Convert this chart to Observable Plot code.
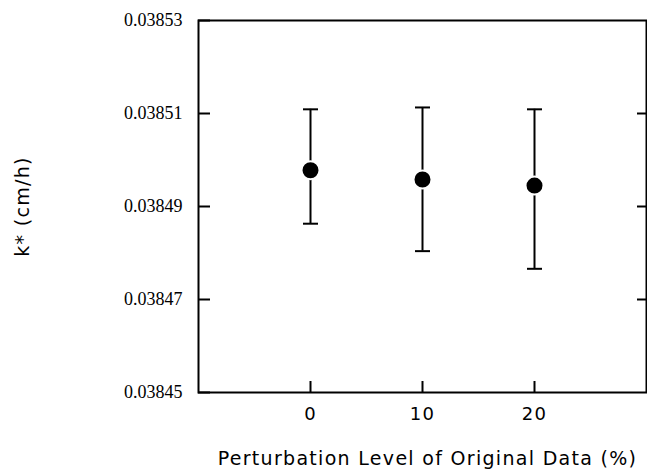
<!DOCTYPE html>
<html>
<head>
<meta charset="utf-8">
<script src="https://cdn.jsdelivr.net/npm/d3@7"></script>
<script src="https://cdn.jsdelivr.net/npm/@observablehq/plot@0.6"></script>
<style>
  html, body { margin: 0; padding: 0; background: #fff; }
</style>
</head>
<body>
<div id="chart"></div>
<script>
const levels = [0, 10, 20];
const means = [0.0384978, 0.0384958, 0.0384945];
const upper = [0.0385109, 0.0385113, 0.0385109];
const lower = [0.0384863, 0.0384804, 0.0384766];
const yTicks = [0.03845, 0.03847, 0.03849, 0.03851, 0.03853];
const yInnerTicks = [0.03847, 0.03849, 0.03851];
const xTicks = [0, 10, 20];
const xTitle = "Perturbation Level of Original Data (%)";
const yTitle = "k* (cm/h)";

const data = levels.map((x, i) => ({x, mean: means[i], hi: upper[i], lo: lower[i]}));

const capSymbol = {
  draw(ctx, size) {
    const r = Math.sqrt(size / Math.PI);
    ctx.moveTo(-r, 0);
    ctx.lineTo(r, 0);
  }
};

const sans = "DejaVu Sans";
const plot = Plot.plot({
  width: 647,
  height: 470,
  marginLeft: 198,
  marginRight: 1,
  marginTop: 20,
  marginBottom: 78,
  style: {fontFamily: "Liberation Serif", fontSize: "18px", background: "#fff", color: "#000"},
  x: {domain: [-10, 30]},
  y: {domain: [0.03845, 0.03853]},
  marks: [
    Plot.axisY({ticks: yTicks, tickFormat: d3.format(".5f"), tickSize: -12, tickPadding: 28, strokeWidth: 2, label: null,
      fontFamily: "Liberation Serif", fontSize: 18}),
    Plot.axisY({anchor: "right", ticks: yInnerTicks, tickFormat: () => "", tickSize: -10, strokeWidth: 2, label: null}),
    Plot.axisX({ticks: xTicks, tickSize: -11, tickPadding: 26, strokeWidth: 2, label: null,
      fontFamily: sans, fontSize: 18}),
    Plot.frame({strokeWidth: 2}),
    Plot.ruleX(data, {x: "x", y1: "lo", y2: "hi", strokeWidth: 2}),
    Plot.dot(data, {x: "x", y: "hi", symbol: capSymbol, r: 7.5, stroke: "black", strokeWidth: 2, fill: "none"}),
    Plot.dot(data, {x: "x", y: "lo", symbol: capSymbol, r: 7.5, stroke: "black", strokeWidth: 2, fill: "none"}),
    Plot.dot(data, {x: "x", y: "mean", r: 9, fill: "black", stroke: "white", strokeWidth: 2}),
    Plot.text([xTitle], {text: d => d, frameAnchor: "bottom", dy: 66, dx: 5, fontFamily: sans, fontSize: 19, lineAnchor: "middle", textAnchor: "middle"}),
    Plot.text([yTitle], {text: d => d, frameAnchor: "left", dx: -176, rotate: -90, fontFamily: sans, fontSize: 19, textAnchor: "middle"})
  ]
});
plot.querySelectorAll("text").forEach(t => {
  const ff = t.getAttribute("font-family") || (t.parentNode && t.parentNode.getAttribute && t.parentNode.getAttribute("font-family"));
  if (ff === sans) t.style.letterSpacing = "1.3px";
});
document.getElementById("chart").appendChild(plot);
</script>
</body>
</html>
